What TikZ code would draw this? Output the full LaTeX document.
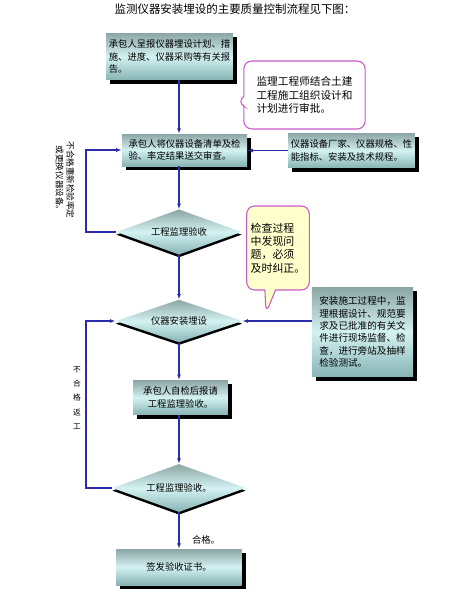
\documentclass[tikz,border=0pt]{standalone}
\usepackage{fontspec}
\newfontfamily\cjk{Noto Sans CJK SC}
\usetikzlibrary{positioning, arrows.meta, shapes.geometric, shapes.callouts, shadows}
\definecolor{boxtop}{RGB}{140,165,165}
\definecolor{boxmid}{RGB}{212,242,242}
\definecolor{boxbot}{RGB}{135,180,180}
\definecolor{flowblue}{RGB}{45,45,170}
\definecolor{notepink}{RGB}{200,90,200}
\definecolor{noteyellow}{RGB}{255,255,204}
\tikzset{
    flowbox/.style={top color=boxtop, bottom color=boxbot, middle color=boxmid, inner sep=2pt,
        drop shadow={fill=black, opacity=1, shadow xshift=3pt, shadow yshift=-3pt},
        font=\cjk\fontsize{7}{9.5}\selectfont},
    decision/.style={diamond, aspect=2.8, inner sep=0pt, top color=boxtop, bottom color=boxbot, middle color=boxmid,
        drop shadow={fill=black, opacity=1, shadow xshift=0pt, shadow yshift=-2pt},
        font=\cjk\fontsize{7}{9}\selectfont},
    note/.style={rectangle callout, draw=notepink, line width=0.8pt, rounded corners=6pt, inner sep=3pt,
        align=left, font=\cjk\fontsize{8}{10}\selectfont},
    flow/.style={->, draw=flowblue, line width=0.8pt},
    tag/.style={font=\cjk\fontsize{6}{7.5}\selectfont, align=center}
}

\begin{document}
\begin{tikzpicture}[x=0.75pt, y=-0.75pt, >={Latex[length=4pt, width=3pt]}]
  \useasboundingbox (0,0) rectangle (462,596);
  \node(T)[font=\cjk\fontsize{8.6}{10}\selectfont] at (235,9) {监测仪器安装埋设的主要质量控制流程见下图：};
  % main column
  \node(B1)[flowbox, minimum width=94pt, minimum height=35pt, align=left] at (169.5,56.5)
    {承包人呈报仪器埋设计划、措\\施、进度、仪器采购等有关报\\告。};
  \node(B2)[flowbox, minimum width=94pt, minimum height=24pt, align=left] at (184.5,150)
    {承包人将仪器设备清单及检\\验、率定结果送交审查。};
  \node(D1)[decision, minimum width=94pt, minimum height=34pt] at (179,232) {工程监理验收};
  \node(D2)[decision, minimum width=95pt, minimum height=32pt] at (179,321) {仪器安装埋设};
  \node(B5)[flowbox, minimum width=71pt, minimum height=26pt, align=center] at (180.5,397.5)
    {承包人自检后报请\\工程监理验收。};
  \node(D3)[decision, minimum width=100pt, minimum height=36pt] at (179,488) {工程监理验收。};
  \node(B6)[flowbox, minimum width=94pt, minimum height=27pt] at (179,567) {签发验收证书。};
  % side boxes
  \node(B3)[flowbox, minimum width=95pt, minimum height=26pt, align=left] at (351.5,150.5)
    {仪器设备厂家、仪器规格、性\\能指标、安装及技术规程。};
  \node(B4)[flowbox, minimum width=76pt, minimum height=67pt, align=left, font=\cjk\fontsize{7.2}{9.3}\selectfont] at (362.5,332)
    {安装施工过程中，监\\理根据设计、规范要\\求及已批准的有关文\\件进行现场监督、检\\查，进行旁站及抽样\\检验测试。};
  % notes
  \coordinate(P1) at (237,102);
  \coordinate(P2) at (266,313);
  \node(C1)[note, fill=white, minimum width=91pt, minimum height=51pt, callout absolute pointer=(P1)] at (304.5,95)
    {监理工程师结合土建\\工程施工组织设计和\\计划进行审批。};
  \node(C2)[note, fill=noteyellow, minimum width=44pt, minimum height=63pt, callout absolute pointer=(P2),
    callout pointer width=8pt, font=\cjk\fontsize{8.2}{10}\selectfont] at (278,248)
    {检查过程\\中发现问\\题，必须\\及时纠正。};
  % loops
  \coordinate(L) at (86,0);
  \node(R1)[tag, rotate=-90, font=\cjk\fontsize{6.4}{8}\selectfont] at (65,180) {不合格重新检验率定\\或更换仪器设备。};
  \node(R2)[tag, font=\cjk\fontsize{5.8}{10.7}\selectfont] at (77,398) {不\\合\\格\\返\\工};
  \node(OK)[font=\cjk\fontsize{7}{9}\selectfont] at (206,540) {合格。};
  \draw[flow](B1.south -| D1.north)--(B2.north -| D1.north);
  \draw[flow](B2.south -| D1.north)--(D1.north);
  \draw[flow](D1.south)--(D2.north);
  \draw[flow](D2.south)--(B5.north -| D2.south);
  \draw[flow](B5.south -| D3.north)--(D3.north);
  \draw[flow](D3.south)--(B6.north -| D3.south);
  \draw[flow](B3.west)--(B3.west -| B2.east);
  \draw[flow](B4.west |- D2.east)--(D2.east);
  \draw[flow](D1.west)--(D1.west -| L)|-(B2.west);
  \draw[flow](D3.west)--(D3.west -| L)|-(D2.west);
\end{tikzpicture}
\end{document}
